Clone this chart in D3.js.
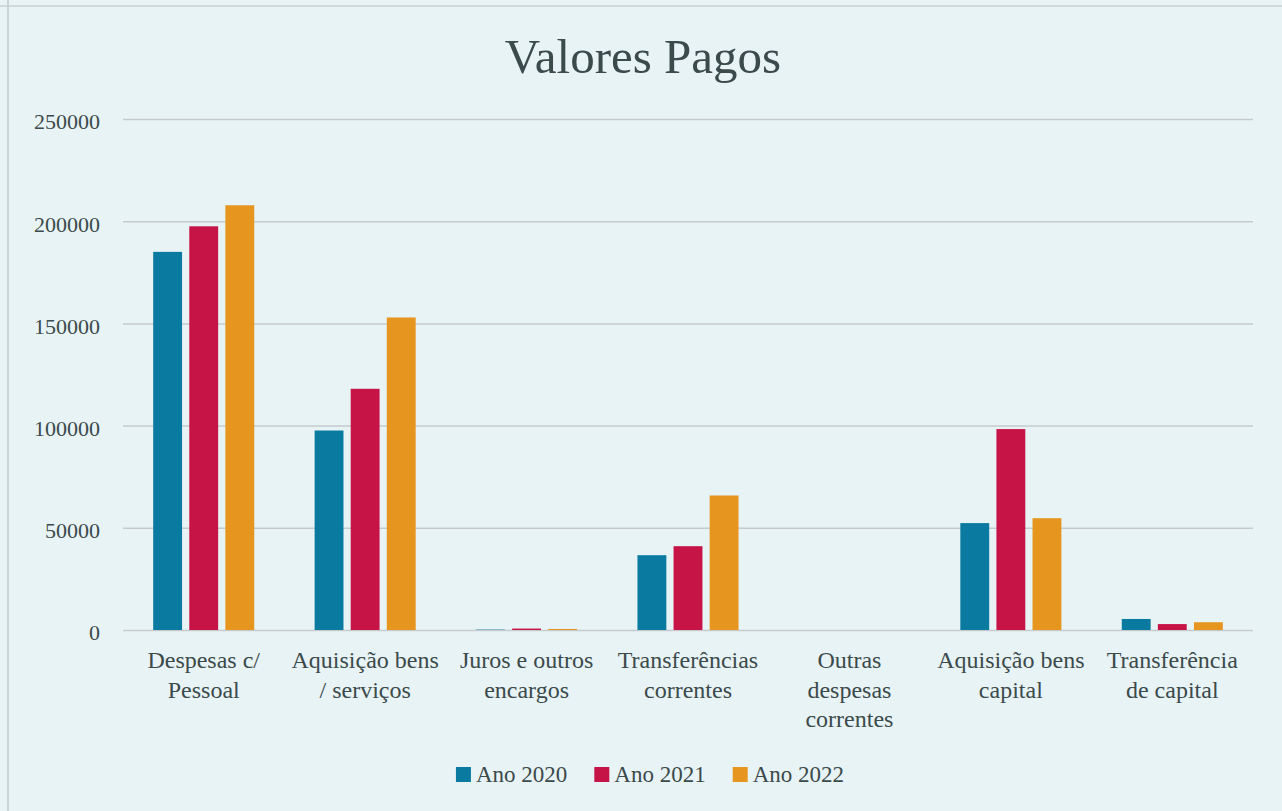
<!DOCTYPE html>
<html>
<head>
<meta charset="utf-8">
<script src="https://cdn.jsdelivr.net/npm/d3@7"></script>
<style>
  html, body { margin: 0; padding: 0; background: #e8f3f6; }
  svg { display: block; }
  text { font-family: "Liberation Serif", "DejaVu Serif", serif; fill: #3b4a4b; }
</style>
</head>
<body>
<div id="chart"></div>
<script>
// Valores Pagos - grouped bar chart

// Category labels (one entry per line of the wrapped label)
const categoryLines = [
    ["Despesas c/", "Pessoal"],
    ["Aquisição bens", "/ serviços"],
    ["Juros e outros", "encargos"],
    ["Transferências", "correntes"],
    ["Outras", "despesas", "correntes"],
    ["Aquisição bens", "capital"],
    ["Transferência", "de capital"]
];
const categories = categoryLines.map(l => l.join(" "));

const seriesNames = ["Ano 2020", "Ano 2021", "Ano 2022"];
const ano2020 = [185000, 97600, 200, 36600, 0, 52300, 5400];
const ano2021 = [197500, 118000, 700, 41000, 0, 98300, 2900];
const ano2022 = [207800, 152900, 500, 65800, 0, 54700, 3800];
const seriesValues = [ano2020, ano2021, ano2022];

const yTicks = [0, 50000, 100000, 150000, 200000, 250000];

const colors = ["#0b7aa0", "#c71447", "#e6951f"];

// Dimensions
const W = 1282, H = 811;
const plot = { left: 123, right: 1253, top: 119, bottom: 630 };

const svg = d3.select("#chart").append("svg")
    .attr("width", W)
    .attr("height", H);

// page background + scan border lines
svg.append("rect").attr("width", W).attr("height", H).attr("fill", "#e8f3f6");
svg.append("line").attr("x1", 8).attr("x2", 8).attr("y1", 0).attr("y2", H)
    .attr("stroke", "#c3c9cb").attr("stroke-width", 1.5);
svg.append("line").attr("x1", 0).attr("x2", W).attr("y1", 6).attr("y2", 6)
    .attr("stroke", "#c9cfd1").attr("stroke-width", 1.5);

// Scales
const x0 = d3.scaleBand()
    .domain(categories)
    .range([plot.left, plot.right])
    .paddingInner(0.374)
    .paddingOuter(0.187);

const x1 = d3.scaleBand()
    .domain(seriesNames)
    .range([0, x0.bandwidth()])
    .paddingInner(0.2);

const y = d3.scaleLinear()
    .domain([0, 250000])
    .range([plot.bottom, plot.top]);

// Gridlines
svg.append("g")
    .attr("class", "y-grid")
    .attr("transform", `translate(${plot.left},0)`)
    .call(d3.axisLeft(y).tickValues(yTicks).tickSize(-(plot.right - plot.left)).tickFormat(""))
    .call(g => g.select(".domain").remove())
    .selectAll("line")
    .attr("stroke", "#c5cbcd")
    .attr("stroke-width", 1.5);

// Y tick labels
svg.append("g")
    .attr("class", "y-axis")
    .attr("transform", `translate(100,0)`)
    .call(d3.axisLeft(y).tickValues(yTicks).tickSize(0).tickPadding(0).tickFormat(d3.format("d")))
    .call(g => g.select(".domain").remove())
    .selectAll("text")
    .attr("font-size", 22)
    .attr("font-family", "Liberation Serif, serif")
    .attr("fill", "#3b4a4b")
    .attr("dy", "0.45em");

// Bars
const groups = svg.append("g")
    .selectAll("g.cat")
    .data(categories)
    .enter()
    .append("g")
    .attr("class", "cat")
    .attr("transform", d => `translate(${x0(d)},0)`);

groups.selectAll("rect")
    .data((d, i) => seriesNames.map((s, j) => ({ series: s, value: seriesValues[j][i], color: colors[j] })))
    .enter()
    .append("rect")
    .attr("x", d => x1(d.series))
    .attr("width", x1.bandwidth())
    .attr("y", d => y(d.value))
    .attr("height", d => y(0) - y(d.value))
    .attr("fill", d => d.color);

// Category labels
const labels = svg.append("g")
    .selectAll("text")
    .data(categories)
    .enter()
    .append("text")
    .attr("text-anchor", "middle")
    .attr("font-size", 24)
    .attr("x", d => x0(d) + x0.bandwidth() / 2)
    .attr("y", 668);

labels.selectAll("tspan")
    .data((d, i) => categoryLines[i])
    .enter()
    .append("tspan")
    .attr("x", function () { return d3.select(this.parentNode).attr("x"); })
    .attr("dy", (d, i) => i === 0 ? 0 : 29.5)
    .text(d => d);

// Title
svg.append("text")
    .attr("x", 643)
    .attr("y", 73)
    .attr("text-anchor", "middle")
    .attr("font-size", 49)
    .attr("fill", "#3d4d4e")
    .text("Valores Pagos");

// Legend
const legend = svg.append("g");
let lx = 0;
seriesNames.forEach((name, i) => {
    const g = legend.append("g").attr("transform", `translate(${lx},0)`);
    g.append("rect").attr("x", 0).attr("y", -15).attr("width", 15).attr("height", 15).attr("fill", colors[i]);
    const t = g.append("text").attr("x", 20).attr("y", 0).attr("font-size", 23).text(name);
    lx += 20 + t.node().getComputedTextLength() + 27;
});
const legendWidth = lx - 27;
legend.attr("transform", `translate(${650 - legendWidth / 2},782)`);
</script>
</body>
</html>
